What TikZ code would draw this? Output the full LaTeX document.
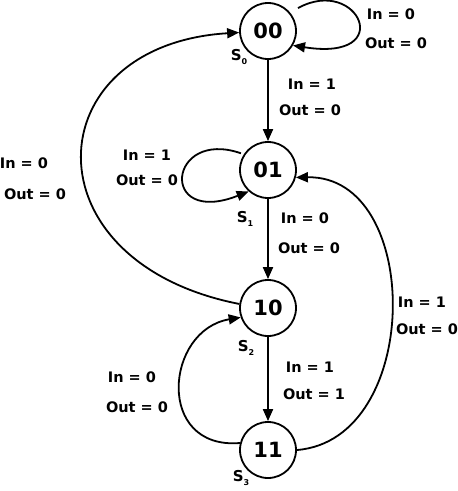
\documentclass[tikz,border=0pt]{standalone}
\usepackage{fontspec}
\setmainfont{DejaVu Sans}
\usetikzlibrary{arrows.meta}
\begin{document}
\begin{tikzpicture}[x=1pt,y=-1pt,
  state/.style={circle,draw,line width=1.8pt,minimum size=56pt,inner sep=0pt,font=\fontsize{21}{21}\selectfont\bfseries},
  lbl/.style={font=\fontsize{14.5}{14.5}\selectfont\bfseries,inner sep=0pt},
  sname/.style={font=\fontsize{15}{15}\selectfont\bfseries,inner sep=0pt},
  arr/.style={line width=1.8pt,-{Triangle[length=12pt,width=10pt]}}]
\useasboundingbox (0,0) rectangle (458,491);
\newcommand{\sn}[1]{S\raisebox{-0.3em}{\fontsize{8}{8}\selectfont #1}}
\node[state] (s0) at (268,31) {00};
\node[state] (s1) at (268,170) {01};
\node[state] (s2) at (268,308) {10};
\node[state] (s3) at (268,450) {11};
\node[sname] (n0) at (239,57) {\sn{0}};
\node[sname] (n1) at (245,219) {\sn{1}};
\node[sname] (n2) at (246,348) {\sn{2}};
\node[sname] (n3) at (241,478) {\sn{3}};
% straight arrows
\draw[arr] (s0) -- (s1);
\draw[arr] (s1) -- (s2);
\draw[arr] (s2) -- (s3);
% self loop 00
\draw[arr,shorten <=9pt] (s0.40) .. controls (358,-25) and (398,62) .. (s0.-30);
% self loop 01
\draw[arr,shorten <=3pt] (s1.147) .. controls (168,128) and (158,227) .. (s1.-132);
% big left arc 10 -> 00
\draw[arr] (s2.172) .. controls (25,262) and (35,45) .. (s0.183);
% 11 -> 10 left
\draw[arr] (s3.166) .. controls (155,450) and (165,330) .. (s2.199);
% 11 -> 01 right
\draw[arr] (s3.0) .. controls (423,440) and (423,175) .. (s1.-15);
% labels
\node[lbl] (a1) at (391,14) {In = 0};
\node[lbl] (a2) at (396,43) {Out = 0};
\node[lbl] (b1) at (312,84) {In = 1};
\node[lbl] (b2) at (310,110) {Out = 0};
\node[lbl] (c1) at (147,155) {In = 1};
\node[lbl] (c2) at (147,180) {Out = 0};
\node[lbl] (d1) at (305,218) {In = 0};
\node[lbl] (d2) at (309,248) {Out = 0};
\node[lbl] (e1) at (24,163) {In = 0};
\node[lbl] (e2) at (35,194) {Out = 0};
\node[lbl] (f1) at (310,367) {In = 1};
\node[lbl] (f2) at (314,394) {Out = 1};
\node[lbl] (g1) at (132,377) {In = 0};
\node[lbl] (g2) at (137,407) {Out = 0};
\node[lbl] (h1) at (422,302) {In = 1};
\node[lbl] (h2) at (427,329) {Out = 0};
\end{tikzpicture}
\end{document}
